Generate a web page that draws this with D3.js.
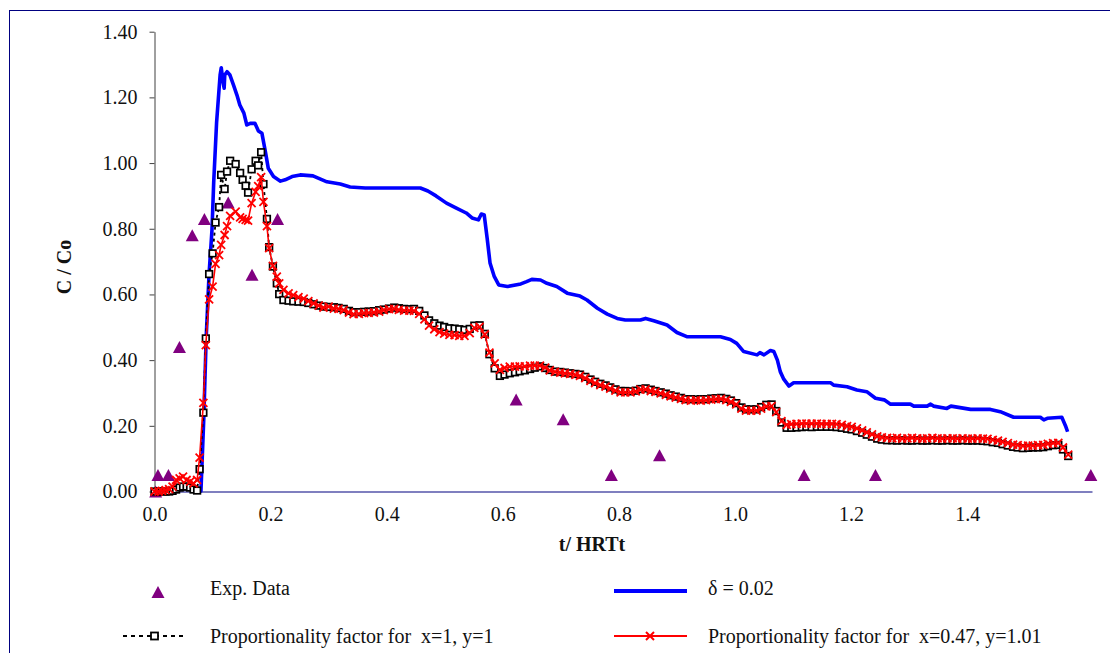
<!DOCTYPE html>
<html>
<head>
<meta charset="utf-8">
<script src="https://cdn.jsdelivr.net/npm/d3@7"></script>
<style>
  html, body { margin: 0; padding: 0; background: #fff; }
  svg { display: block; }
  text { font-family: "Liberation Serif", "Times New Roman", serif; }
</style>
</head>
<body>
<svg id="chart" width="1110" height="653"></svg>
<script>
// ---- Experimental tracer data (t/HRTt, C/Co) ----
const expT = [0.002, 0.006, 0.024, 0.043, 0.065, 0.086, 0.127, 0.168, 0.212, 0.623, 0.704, 0.787, 0.870, 1.119, 1.242, 1.613];
const expC = [0.00, 0.05, 0.05, 0.44, 0.78, 0.83, 0.88, 0.66, 0.83, 0.28, 0.22, 0.05, 0.11, 0.05, 0.05, 0.05];

// ---- Model with δ = 0.02 ----
const deltaT = [0, 0.037, 0.053, 0.070, 0.080, 0.085, 0.089, 0.094, 0.099, 0.102, 0.107, 0.113, 0.115, 0.118, 0.120, 0.121,
  0.125, 0.130, 0.136, 0.142, 0.147, 0.154, 0.159, 0.165, 0.173, 0.179, 0.185, 0.191, 0.196, 0.205, 0.217, 0.225,
  0.237, 0.251, 0.273, 0.297, 0.320, 0.337, 0.363, 0.424, 0.458, 0.471, 0.485, 0.503, 0.520, 0.537, 0.547, 0.558,
  0.563, 0.568, 0.573, 0.578, 0.585, 0.593, 0.608, 0.631, 0.641, 0.650, 0.665, 0.676, 0.693, 0.711, 0.733, 0.745,
  0.763, 0.780, 0.797, 0.811, 0.837, 0.846, 0.860, 0.883, 0.900, 0.918, 0.975, 0.992, 1.003, 1.015, 1.038, 1.043,
  1.050, 1.061, 1.067, 1.073, 1.078, 1.084, 1.093, 1.101, 1.165, 1.170, 1.193, 1.210, 1.227, 1.242, 1.257, 1.268,
  1.302, 1.308, 1.331, 1.337, 1.342, 1.365, 1.372, 1.406, 1.440, 1.457, 1.480, 1.526, 1.532, 1.538, 1.563, 1.570, 1.573];
const deltaC = [0, 0.002, 0.011, 0.008, 0.002, 0.228, 0.467, 0.662, 0.796, 0.942, 1.125, 1.268, 1.290, 1.248, 1.228, 1.268,
  1.278, 1.268, 1.238, 1.207, 1.177, 1.152, 1.116, 1.121, 1.121, 1.098, 1.091, 1.035, 0.984, 0.959, 0.945, 0.949,
  0.959, 0.964, 0.961, 0.943, 0.936, 0.927, 0.924, 0.924, 0.924, 0.915, 0.900, 0.878, 0.863, 0.848, 0.833, 0.827,
  0.845, 0.842, 0.772, 0.696, 0.656, 0.629, 0.624, 0.632, 0.639, 0.646, 0.644, 0.634, 0.624, 0.604, 0.595, 0.583,
  0.558, 0.540, 0.527, 0.522, 0.522, 0.527, 0.520, 0.507, 0.484, 0.471, 0.471, 0.463, 0.451, 0.426, 0.416, 0.423,
  0.416, 0.429, 0.426, 0.400, 0.365, 0.342, 0.321, 0.331, 0.331, 0.324, 0.319, 0.309, 0.304, 0.284, 0.279, 0.266,
  0.266, 0.260, 0.260, 0.266, 0.260, 0.253, 0.260, 0.250, 0.250, 0.243, 0.226, 0.226, 0.218, 0.223, 0.226, 0.197, 0.182];

// ---- Proportionality-factor models: shared output times ----
const simT = [0, 0.0071, 0.0130, 0.0191, 0.0252, 0.0311, 0.0372, 0.0433, 0.0492, 0.0553,
  0.0613, 0.0673, 0.0734, 0.0777, 0.0842, 0.0884, 0.0941, 0.1001, 0.1052, 0.1113,
  0.1148, 0.1208, 0.1250, 0.1303, 0.1398, 0.1475, 0.1518, 0.1570, 0.1612, 0.1673,
  0.1742, 0.1786, 0.1837, 0.1877, 0.1937, 0.1975, 0.2040, 0.2107, 0.2148, 0.2221,
  0.231, 0.239, 0.248, 0.257, 0.265, 0.274, 0.283, 0.291, 0.300, 0.309,
  0.317, 0.326, 0.335, 0.343, 0.352, 0.361, 0.369, 0.378, 0.387, 0.395,
  0.404, 0.413, 0.421, 0.430, 0.439, 0.447, 0.456, 0.465, 0.473, 0.482,
  0.491, 0.499, 0.508, 0.517, 0.525, 0.534, 0.543, 0.551, 0.560, 0.569,
  0.577, 0.586, 0.595, 0.603, 0.612, 0.621, 0.629, 0.638, 0.647, 0.655,
  0.664, 0.673, 0.681, 0.690, 0.699, 0.707, 0.716, 0.725, 0.733, 0.742,
  0.751, 0.759, 0.768, 0.777, 0.785, 0.794, 0.803, 0.811, 0.820, 0.829,
  0.837, 0.846, 0.855, 0.863, 0.872, 0.881, 0.889, 0.898, 0.907, 0.915,
  0.924, 0.933, 0.941, 0.950, 0.959, 0.967, 0.976, 0.985, 0.993, 1.002,
  1.011, 1.019, 1.028, 1.037, 1.045, 1.054, 1.063, 1.071, 1.080, 1.089,
  1.097, 1.106, 1.115, 1.123, 1.132, 1.141, 1.149, 1.158, 1.167, 1.175,
  1.184, 1.193, 1.201, 1.210, 1.219, 1.227, 1.236, 1.245, 1.253, 1.262,
  1.271, 1.279, 1.288, 1.297, 1.305, 1.314, 1.323, 1.331, 1.340, 1.349,
  1.357, 1.366, 1.375, 1.383, 1.392, 1.401, 1.409, 1.418, 1.427,
  1.435, 1.444, 1.453, 1.461, 1.470, 1.479, 1.487, 1.496, 1.505, 1.513,
  1.522, 1.531, 1.539, 1.548, 1.557, 1.565, 1.574];

// x = 1, y = 1
const propC_1_1 = [0, 0, 0, 0, 0, 0.002, 0.006, 0.012, 0.015, 0.015,
  0.012, 0.006, 0.003, 0.068, 0.240, 0.466, 0.662, 0.725, 0.819, 0.866,
  0.964, 0.921, 0.974, 1.007, 0.997, 0.970, 0.949, 0.931, 0.910, 0.981,
  1.007, 0.993, 1.033, 0.936, 0.830, 0.744, 0.685, 0.634, 0.601, 0.583,
  0.581, 0.579, 0.578, 0.577, 0.574, 0.570, 0.566, 0.563, 0.562, 0.561,
  0.559, 0.556, 0.550, 0.546, 0.546, 0.547, 0.548, 0.549, 0.552, 0.554,
  0.557, 0.560, 0.558, 0.556, 0.555, 0.556, 0.550, 0.536, 0.521, 0.512,
  0.505, 0.501, 0.497, 0.496, 0.494, 0.492, 0.495, 0.505, 0.506, 0.480,
  0.418, 0.375, 0.352, 0.356, 0.360, 0.363, 0.366, 0.369, 0.373, 0.377,
  0.381, 0.376, 0.370, 0.365, 0.364, 0.362, 0.360, 0.358, 0.356, 0.349,
  0.341, 0.334, 0.328, 0.323, 0.317, 0.311, 0.306, 0.306, 0.305, 0.307,
  0.312, 0.314, 0.310, 0.306, 0.302, 0.298, 0.293, 0.289, 0.285, 0.281,
  0.281, 0.280, 0.281, 0.281, 0.283, 0.284, 0.285, 0.282, 0.277, 0.269,
  0.256, 0.250, 0.250, 0.250, 0.257, 0.264, 0.265, 0.245, 0.210, 0.194,
  0.194, 0.195, 0.196, 0.197, 0.196, 0.197, 0.197, 0.197, 0.197, 0.196,
  0.194, 0.191, 0.189, 0.184, 0.179, 0.173, 0.167, 0.161, 0.158, 0.156,
  0.156, 0.155, 0.156, 0.155, 0.155, 0.156, 0.155, 0.155, 0.156, 0.155,
  0.155, 0.156, 0.155, 0.155, 0.156, 0.155, 0.155, 0.155, 0.154,
  0.153, 0.150, 0.148, 0.144, 0.140, 0.136, 0.134, 0.132, 0.133, 0.134,
  0.134, 0.135, 0.138, 0.141, 0.142, 0.128, 0.108];

// x = 0.47, y = 1.01
const propC_047_101 = [0, 0, 0.002, 0.004, 0.007, 0.015, 0.035, 0.040, 0.045, 0.035,
  0.030, 0.025, 0.035, 0.103, 0.270, 0.446, 0.585, 0.624, 0.693, 0.720,
  0.751, 0.781, 0.808, 0.839, 0.852, 0.835, 0.830, 0.827, 0.825, 0.878,
  0.912, 0.930, 0.957, 0.882, 0.808, 0.741, 0.687, 0.654, 0.634, 0.614,
  0.603, 0.598, 0.592, 0.587, 0.580, 0.573, 0.566, 0.560, 0.563, 0.557,
  0.556, 0.552, 0.545, 0.540, 0.541, 0.543, 0.544, 0.545, 0.548, 0.552,
  0.555, 0.556, 0.553, 0.551, 0.551, 0.550, 0.541, 0.524, 0.505, 0.494,
  0.485, 0.481, 0.477, 0.476, 0.474, 0.474, 0.482, 0.498, 0.501, 0.478,
  0.423, 0.390, 0.370, 0.376, 0.380, 0.380, 0.381, 0.381, 0.383, 0.383,
  0.383, 0.377, 0.369, 0.364, 0.362, 0.360, 0.358, 0.355, 0.352, 0.345,
  0.337, 0.330, 0.324, 0.319, 0.313, 0.307, 0.302, 0.302, 0.302, 0.305,
  0.310, 0.311, 0.306, 0.303, 0.299, 0.294, 0.290, 0.286, 0.282, 0.278,
  0.277, 0.278, 0.277, 0.278, 0.280, 0.281, 0.282, 0.278, 0.273, 0.265,
  0.252, 0.246, 0.246, 0.246, 0.252, 0.259, 0.260, 0.242, 0.214, 0.203,
  0.205, 0.206, 0.207, 0.207, 0.207, 0.207, 0.206, 0.206, 0.206, 0.205,
  0.203, 0.199, 0.197, 0.192, 0.186, 0.180, 0.174, 0.168, 0.165, 0.163,
  0.162, 0.163, 0.161, 0.162, 0.163, 0.162, 0.161, 0.162, 0.163, 0.162,
  0.161, 0.162, 0.162, 0.161, 0.162, 0.161, 0.161, 0.162, 0.161,
  0.160, 0.157, 0.155, 0.151, 0.147, 0.143, 0.141, 0.139, 0.140, 0.140,
  0.141, 0.142, 0.145, 0.147, 0.148, 0.134, 0.112];

// ---- Axis ticks and labels ----
const xTicks = [0, 0.2, 0.4, 0.6, 0.8, 1.0, 1.2, 1.4];
const yTicks = [0, 0.2, 0.4, 0.6, 0.8, 1.0, 1.2, 1.4];
const xTitle = "t/ HRTt";
const yTitle = "C / Co";
const legendLabels = ["Exp. Data", "δ = 0.02", "Proportionality factor for  x=1, y=1", "Proportionality factor for  x=0.47, y=1.01"];

// ---- Drawing ----
const FONT = '"Liberation Serif", "Times New Roman", serif';
const svg = d3.select("#chart");

// chart area frame
svg.append("rect")
  .attr("x", 9.5).attr("y", 10.5).attr("width", 1200).attr("height", 700)
  .attr("fill", "#fff").attr("stroke", "#000080").attr("stroke-width", 1);

const x = d3.scaleLinear().domain([0, 1.615]).range([154.5, 1092]);
const y = d3.scaleLinear().domain([0, 1.4]).range([491.5, 31.7]);

// y axis
const gy = svg.append("g").attr("transform", "translate(154.5,0)")
  .call(d3.axisLeft(y).tickValues(yTicks).tickFormat(d3.format(".2f"))
    .tickSize(5).tickSizeOuter(0).tickPadding(12));
gy.attr("font-family", FONT).attr("font-size", 20);
gy.select(".domain").attr("stroke", "#404040");
gy.selectAll(".tick line").attr("stroke", "#404040");
gy.selectAll(".tick text").attr("fill", "#111");

// x axis
const gx = svg.append("g").attr("transform", "translate(0,491.5)")
  .call(d3.axisBottom(x).tickValues(xTicks).tickFormat(d3.format(".1f"))
    .tickSize(0).tickSizeOuter(0).tickPadding(15));
gx.attr("font-family", FONT).attr("font-size", 20);
gx.select(".domain").attr("stroke", "#000080").attr("stroke-width", 1.2);
gx.selectAll(".tick text").attr("fill", "#111");

// axis titles
svg.append("text").attr("x", 592).attr("y", 551)
  .attr("text-anchor", "middle").attr("font-weight", "bold").attr("font-size", 20)
  .attr("fill", "#111").text(xTitle);
svg.append("text").attr("transform", "translate(71,267) rotate(-90)")
  .attr("text-anchor", "middle").attr("font-weight", "bold").attr("font-size", 20)
  .attr("fill", "#111").text(yTitle);

// marker shapes
const triPath = "M0,-6L6.5,6L-6.5,6Z";
const crossPath = "M-4,-4L4,4M-4,4L4,-4";

const plot = svg.append("g");

// experimental points
plot.selectAll(".exp").data(expT.map((t, i) => [t, expC[i]])).join("path")
  .attr("class", "exp")
  .attr("d", triPath)
  .attr("transform", d => `translate(${x(d[0])},${y(d[1])})`)
  .attr("fill", "#800080");

// δ = 0.02 curve
const lineOf = (ts, cs) => d3.line().x((d, i) => x(ts[i])).y((d, i) => y(cs[i]))(cs);
plot.append("path").attr("d", lineOf(deltaT, deltaC))
  .attr("fill", "none").attr("stroke", "#0000ff").attr("stroke-width", 3.6)
  .attr("stroke-linejoin", "round");

// x = 1, y = 1 : dashed line with open squares
plot.append("path").attr("d", lineOf(simT, propC_1_1))
  .attr("fill", "none").attr("stroke", "#000").attr("stroke-width", 1.8)
  .attr("stroke-dasharray", "3,3");
plot.selectAll(".sq").data(simT.map((t, i) => [t, propC_1_1[i]])).join("rect")
  .attr("class", "sq")
  .attr("x", d => x(d[0]) - 3.3).attr("y", d => y(d[1]) - 3.3)
  .attr("width", 6.6).attr("height", 6.6)
  .attr("fill", "#fff").attr("stroke", "#000").attr("stroke-width", 1.7);

// x = 0.47, y = 1.01 : solid red line with crosses
plot.append("path").attr("d", lineOf(simT, propC_047_101))
  .attr("fill", "none").attr("stroke", "#ff0000").attr("stroke-width", 1.6);
plot.selectAll(".cr").data(simT.map((t, i) => [t, propC_047_101[i]])).join("path")
  .attr("class", "cr")
  .attr("d", crossPath)
  .attr("transform", d => `translate(${x(d[0])},${y(d[1])})`)
  .attr("fill", "none").attr("stroke", "#ff0000").attr("stroke-width", 1.8);

// legend
const lg = svg.append("g").attr("font-size", 20).attr("fill", "#111");
const row1 = 591, row2 = 636;
lg.append("path").attr("d", triPath).attr("transform", `translate(158,${row1 + 1})`).attr("fill", "#800080");
lg.append("text").attr("x", 210).attr("y", row1 + 4).text(legendLabels[0]);

lg.append("line").attr("x1", 614).attr("x2", 687).attr("y1", row1).attr("y2", row1)
  .attr("stroke", "#0000ff").attr("stroke-width", 4);
lg.append("text").attr("x", 708).attr("y", row1 + 4).text(legendLabels[1]);

lg.append("line").attr("x1", 123).attr("x2", 186).attr("y1", row2).attr("y2", row2)
  .attr("stroke", "#000").attr("stroke-width", 2.2).attr("stroke-dasharray", "4,4");
lg.append("rect").attr("x", 151).attr("y", row2 - 3.5).attr("width", 7).attr("height", 7)
  .attr("fill", "#fff").attr("stroke", "#000").attr("stroke-width", 1.8);
lg.append("text").attr("x", 210).attr("y", row2 + 7).style("white-space", "pre").text(legendLabels[2]);

lg.append("line").attr("x1", 614).attr("x2", 687).attr("y1", row2).attr("y2", row2)
  .attr("stroke", "#ff0000").attr("stroke-width", 2);
lg.append("path").attr("d", crossPath).attr("transform", `translate(650,${row2})`)
  .attr("fill", "none").attr("stroke", "#ff0000").attr("stroke-width", 2);
lg.append("text").attr("x", 708).attr("y", row2 + 7).style("white-space", "pre").text(legendLabels[3]);
</script>
</body>
</html>
